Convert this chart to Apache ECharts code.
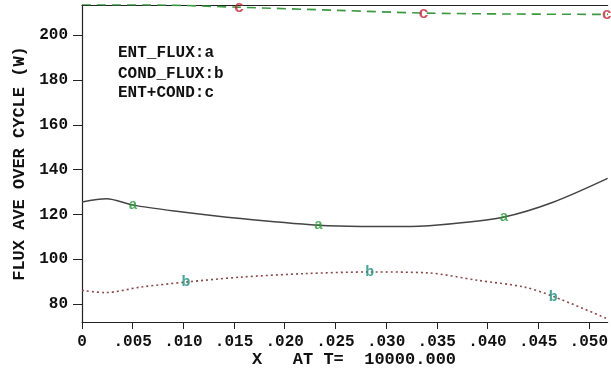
<!DOCTYPE html>
<html><head><meta charset="utf-8">
<script src="https://cdn.jsdelivr.net/npm/echarts@6/dist/echarts.min.js"></script>
<style>html,body{margin:0;padding:0;background:#fff}#c{width:611px;height:373px}</style>
</head><body><div id="c"></div>
<script>
// Data
const xTicks = [0, 0.005, 0.010, 0.015, 0.020, 0.025, 0.030, 0.035, 0.040, 0.045, 0.050];
const yTicks = [80, 100, 120, 140, 160, 180, 200];

const entX = [0, 0.00242, 0.00503, 0.00912, 0.01566, 0.02333, 0.02755, 0.03245, 0.03673, 0.04164, 0.04654, 0.05186];
const entY = [125.6, 127.0, 124.2, 121.6, 118.2, 115.2, 114.7, 114.7, 116.0, 118.9, 125.6, 136.1];

const condX = [0, 0.00225, 0.00585, 0.01026, 0.01566, 0.02219, 0.0284, 0.0341, 0.039, 0.0436, 0.0465, 0.0518];
const condY = [86.2, 85.2, 87.7, 89.9, 92.1, 93.7, 94.4, 94.0, 90.7, 87.7, 83.5, 73.6];

const sumX = [0, 0.008, 0.0155, 0.0253, 0.0337, 0.042, 0.0519];
const sumY = [213.6, 213.4, 212.4, 211.0, 209.8, 209.4, 209.2];

const markA = [[0.00503, 124.2], [0.02333, 115.2], [0.04164, 118.9]];
const markB = [[0.01026, 89.9], [0.0284, 94.4], [0.0465, 83.0]];
const markC = [[0.0155, 212.4], [0.0337, 209.7], [0.05178, 209.2]];

const legendLines = ['ENT_FLUX:a', 'COND_FLUX:b', 'ENT+COND:c'];
const xTitle = 'X   AT T=  10000.000';
const yTitle = 'FLUX AVE OVER CYCLE (W)';

const FONT = '"Liberation Mono", "DejaVu Sans Mono", monospace';
const zip = (xs, ys) => xs.map((x, i) => [x, ys[i]]);

function markerSeries(data, letter, color, size) {
  return {
    type: 'scatter', data: data, symbolSize: 1, itemStyle: {color: 'rgba(0,0,0,0)'},
    label: {show: true, position: 'inside', formatter: letter, color: color,
      fontFamily: FONT, fontWeight: 'bold', fontSize: size},
    z: 5, silent: true, clip: false
  };
}

const chart = echarts.init(document.getElementById('c'));
chart.setOption({
  animation: false,
  backgroundColor: '#fff',
  grid: {left: 82, right: 0, top: 5, bottom: 51},
  xAxis: [{
    type: 'value', min: 0, max: 0.05186,
    axisLine: {show: true, lineStyle: {color: '#222', width: 1.2}},
    axisTick: {show: true, length: 7, customValues: xTicks, lineStyle: {color: '#222'}},
    axisLabel: {customValues: xTicks, margin: 12, color: '#111', fontFamily: FONT, fontWeight: 'bold', fontSize: 16,
      formatter: v => v === 0 ? '0' : v.toFixed(3).replace(/^0/, '')},
    splitLine: {show: false}
  }, {
    type: 'value', position: 'top', min: 0, max: 0.05186,
    axisLine: {show: true, lineStyle: {color: '#222', width: 1.2}},
    axisTick: {show: false}, axisLabel: {show: false}, splitLine: {show: false}
  }],
  yAxis: {
    type: 'value', min: 72.1, max: 213.4,
    name: yTitle, nameLocation: 'middle', nameGap: 53, nameRotate: 90,
    nameTextStyle: {color: '#111', fontFamily: FONT, fontWeight: 'bold', fontSize: 17},
    axisLine: {show: true, lineStyle: {color: '#222', width: 1.2}},
    axisTick: {show: true, length: 9, customValues: yTicks, lineStyle: {color: '#222'}},
    axisLabel: {customValues: yTicks, margin: 14, color: '#111', fontFamily: FONT, fontWeight: 'bold', fontSize: 16},
    splitLine: {show: false}
  },
  graphic: [
    {type: 'text', left: 118, top: 45, style: {text: legendLines[0], font: 'bold 16px ' + FONT, fill: '#111'}},
    {type: 'text', left: 118, top: 66, style: {text: legendLines[1], font: 'bold 16px ' + FONT, fill: '#111'}},
    {type: 'text', left: 118, top: 85, style: {text: legendLines[2], font: 'bold 16px ' + FONT, fill: '#111'}},
    {type: 'text', left: 252, top: 351, style: {text: xTitle, font: 'bold 17px ' + FONT, fill: '#111'}}
  ],
  series: [
    {type: 'line', data: zip(entX, entY), smooth: 0.3, symbol: 'none',
      lineStyle: {color: '#444', width: 1.5, type: 'solid'}},
    {type: 'line', data: zip(condX, condY), smooth: 0.3, symbol: 'none',
      lineStyle: {color: '#8a4a4a', width: 1.6, type: [2, 3]}},
    {type: 'line', data: zip(sumX, sumY), smooth: 0.3, symbol: 'none',
      lineStyle: {color: '#3a9a40', width: 1.6, type: [9, 6]}},
    markerSeries(markA, 'a', '#2a9a3a', 15),
    markerSeries(markB, 'b', '#1a9080', 15),
    markerSeries(markC, 'c', '#c0283a', 17)
  ]
});
</script></body></html>
